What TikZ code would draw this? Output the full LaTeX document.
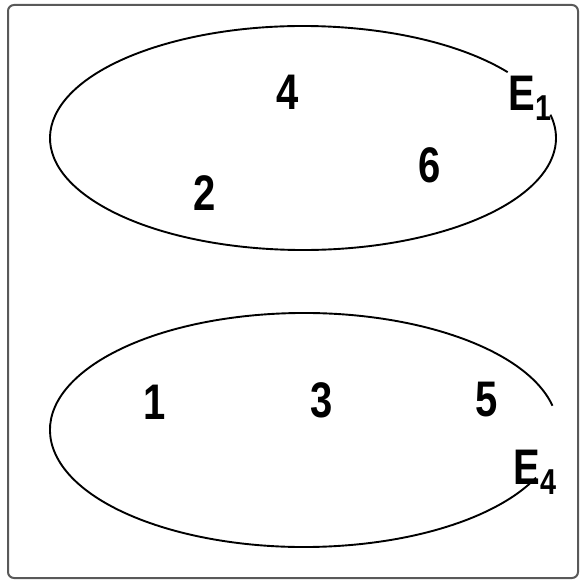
\documentclass[tikz,border=0pt]{standalone}
\usepackage{fontspec}
\setmainfont{Liberation Sans}
\begin{document}
\begin{tikzpicture}[x=1pt, y=-1pt, line width=1.9pt,
	elem/.style={font=\fontsize{50}{50}\selectfont\bfseries, inner sep=0pt}]
		\useasboundingbox (0,0) rectangle (584,583);
		\draw[gray!70!black, line width=2pt, rounded corners=6pt] (8,5) rectangle (578,578);
		
		% Tập E1
		\draw (303,138) ++(36:253 and -112) arc[start angle=36, end angle=372, x radius=253, y radius=-112];
		\node[elem] (n4) at (288,92) {\scalebox{0.8}[1]{4}};
		\node[elem] (n2) at (205,193) {\scalebox{0.8}[1]{2}};
		\node[elem] (n6) at (430,165) {\scalebox{0.8}[1]{6}};
		\node[elem] (e1) at (530,98) {\scalebox{0.8}[1]{E\raisebox{-10pt}{\fontsize{36}{36}\selectfont 1}}};
		
		% Tập E4
		\draw (304,430) ++(12:254 and -117) arc[start angle=12, end angle=336, x radius=254, y radius=-117];
		\node[elem] (n1) at (155,402) {\scalebox{0.8}[1]{1}};
		\node[elem] (n3) at (322,400) {\scalebox{0.8}[1]{3}};
		\node[elem] (n5) at (487,400) {\scalebox{0.8}[1]{5}};
		\node[elem] (e4) at (535,472) {\scalebox{0.8}[1]{E\raisebox{-10pt}{\fontsize{36}{36}\selectfont 4}}};
\end{tikzpicture}
\end{document}
